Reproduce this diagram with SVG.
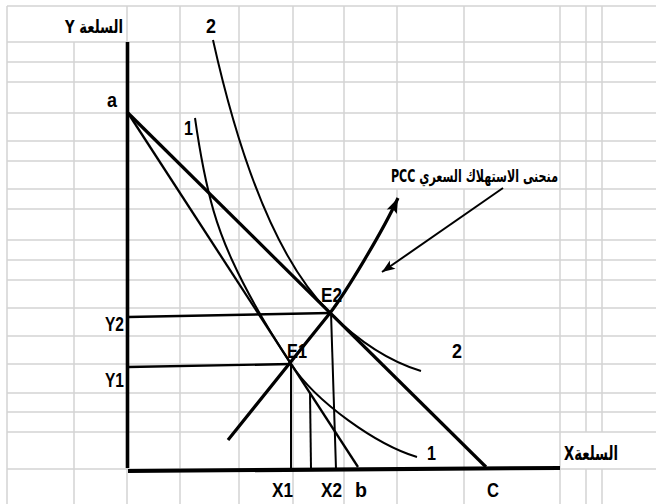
<svg xmlns="http://www.w3.org/2000/svg" width="656" height="504" viewBox="0 0 656 504">
<style>
.grid{stroke:#d3d3d3;stroke-width:1.5;fill:none}
.k{stroke:#000;fill:none;stroke-linecap:butt}
.ax{stroke-width:4}
.thick{stroke-width:3.2}
.mid{stroke-width:2.4}
.thin{stroke-width:2}
.lbl{font-family:"Liberation Sans","DejaVu Sans",sans-serif;font-size:20px;font-weight:bold;fill:#000}
.ar{font-family:"DejaVu Sans","Liberation Sans",sans-serif;font-weight:bold;fill:#000;direction:rtl;unicode-bidi:embed}
</style>
<defs>
<marker id="ah" markerUnits="userSpaceOnUse" markerWidth="20" markerHeight="14" viewBox="-16 -7 18 14" refX="0" refY="0" orient="auto">
<path d="M0,0 L-15,-5.5 L-12,0 L-15,5.5 z" fill="#000"/>
</marker>
<marker id="ah2" markerUnits="userSpaceOnUse" markerWidth="16" markerHeight="12" viewBox="-14 -6 16 12" refX="0" refY="0" orient="auto">
<path d="M0,0 L-13,-5 L-10,0 L-13,5 z" fill="#000"/>
</marker>
</defs>
<rect width="656" height="504" fill="#fff"/>
<g id="grid" class="grid">
<path d="M7,6V504 M74,42V504 M127,6V504 M180,6V504 M239,6V504 M293,6V504 M344,6V504 M397,6V161 M397,189V504 M464,6V161 M464,189V504 M560,6V504 M586,6V432 M586,469V504 M602,6V432 M602,469V504"/>
<path d="M7,6H656 M7,42H656 M7,62H656 M7,82H656 M7,113H656 M7,141H656 M7,161H656 M7,189H656 M7,209H656 M7,240H656 M7,260H656 M7,280H656 M7,308H656 M7,336H656 M7,364H656 M7,393H656 M7,412H656 M7,432H656 M7,469H656"/>
</g>
<g id="axes" class="k">
<path d="M127.5,42 V468" style="stroke-width:3.6"/>
<path class="ax" d="M128,471 L560,468"/>
</g>
<g id="budget-lines" class="k">
<path id="line-ac" class="thick" d="M128,113 L486,467"/>
<path id="line-ab" class="thin" d="M128,113 L358,467" style="stroke-width:2.3"/>
</g>
<g id="indifference-curves" class="k">
<path id="curve-1" class="thin" d="M195,118 C207,202 220,233.6 232,260 C247,293 271,333.4 291,364 C316,402.3 377,445 417,457"/>
<path id="curve-2" class="thin" d="M213,40 Q258,242 330,313 Q374.5,357 421,371"/>
</g>
<g id="guides" class="k">
<path class="mid" d="M128,317 L330,313"/>
<path class="mid" d="M128,367 L291,364"/>
<path class="thin" d="M291,364 V469"/>
<path class="thin" d="M310,392 L311,469"/>
<path class="thin" d="M331,313 L336,469"/>
</g>
<g id="connectors" class="k">
<path id="pcc" class="thick" d="M228,440 L330,313 C345,293.5 383,231 398,198" marker-end="url(#ah)"/>
<path id="pcc-pointer" class="thin" d="M503,188 L382,272" marker-end="url(#ah2)"/>
</g>
<g id="labels">
<g id="label-y-axis"><text class="ar" x="94" y="33" font-size="18" text-anchor="middle" textLength="58" lengthAdjust="spacingAndGlyphs">السلعة Y</text></g>
<g id="label-x-axis"><text class="ar" x="591" y="460" font-size="20" text-anchor="middle" textLength="54" lengthAdjust="spacingAndGlyphs">السلعةX</text></g>
<g id="label-pcc"><text class="ar" x="474.5" y="182" font-size="17" text-anchor="middle" textLength="167" lengthAdjust="spacingAndGlyphs">منحنى الاستهلاك السعري PCC</text></g>
<g id="label-a"><text class="lbl" x="107" y="107" textLength="10" lengthAdjust="spacingAndGlyphs">a</text></g>
<g id="label-b"><text class="lbl" x="355" y="497" textLength="12" lengthAdjust="spacingAndGlyphs">b</text></g>
<g id="label-c"><text class="lbl" x="487" y="497" textLength="12" lengthAdjust="spacingAndGlyphs">C</text></g>
<g id="label-y2"><text class="lbl" x="105" y="331" textLength="19" lengthAdjust="spacingAndGlyphs">Y2</text></g>
<g id="label-y1"><text class="lbl" x="105" y="387" textLength="19" lengthAdjust="spacingAndGlyphs">Y1</text></g>
<g id="label-e1"><text class="lbl" x="287" y="358" textLength="20" lengthAdjust="spacingAndGlyphs">E1</text></g>
<g id="label-e2"><text class="lbl" x="321" y="302" textLength="21" lengthAdjust="spacingAndGlyphs">E2</text></g>
<g id="label-x1"><text class="lbl" x="272" y="497" textLength="21" lengthAdjust="spacingAndGlyphs">X1</text></g>
<g id="label-x2"><text class="lbl" x="321" y="497" textLength="21" lengthAdjust="spacingAndGlyphs">X2</text></g>
<g id="label-curve1-top"><text class="lbl" x="184" y="135" textLength="9" lengthAdjust="spacingAndGlyphs">1</text></g>
<g id="label-curve2-top"><text class="lbl" x="206" y="33" textLength="10" lengthAdjust="spacingAndGlyphs">2</text></g>
<g id="label-curve2-right"><text class="lbl" x="452" y="358" textLength="10" lengthAdjust="spacingAndGlyphs">2</text></g>
<g id="label-curve1-right"><text class="lbl" x="427" y="460" textLength="9" lengthAdjust="spacingAndGlyphs">1</text></g>
</g>
</svg>
